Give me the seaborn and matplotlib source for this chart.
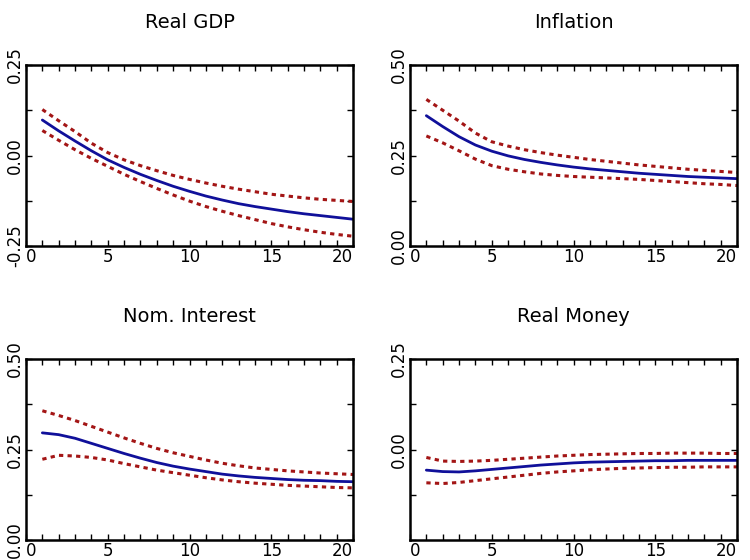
import matplotlib
matplotlib.use("Agg")
import matplotlib.pyplot as plt
import seaborn as sns
import numpy as np
import pandas as pd
from matplotlib.ticker import MultipleLocator

horizon = list(range(1, 21))

titles = ["Real GDP", "Inflation", "Nom. Interest", "Real Money"]

gdp_mid = [0.098, 0.068, 0.040, 0.013, -0.012, -0.033, -0.052, -0.069, -0.085, -0.099,
           -0.112, -0.123, -0.133, -0.141, -0.148, -0.155, -0.161, -0.166, -0.171, -0.176]
gdp_up = [0.127, 0.096, 0.066, 0.034, 0.008, -0.012, -0.028, -0.042, -0.055, -0.066,
          -0.076, -0.085, -0.093, -0.100, -0.107, -0.112, -0.117, -0.121, -0.124, -0.127]
gdp_lo = [0.069, 0.042, 0.016, -0.008, -0.030, -0.052, -0.072, -0.091, -0.109, -0.126,
          -0.141, -0.154, -0.166, -0.177, -0.188, -0.197, -0.205, -0.212, -0.218, -0.223]

inf_mid = [0.360, 0.330, 0.302, 0.279, 0.262, 0.249, 0.239, 0.231, 0.224, 0.218,
           0.213, 0.209, 0.205, 0.201, 0.198, 0.195, 0.192, 0.190, 0.188, 0.186]
inf_up = [0.405, 0.375, 0.345, 0.312, 0.288, 0.276, 0.266, 0.258, 0.251, 0.245,
          0.239, 0.234, 0.229, 0.224, 0.220, 0.216, 0.212, 0.209, 0.206, 0.203]
inf_lo = [0.304, 0.285, 0.263, 0.240, 0.222, 0.212, 0.205, 0.199, 0.195, 0.192,
          0.190, 0.188, 0.186, 0.184, 0.181, 0.178, 0.175, 0.172, 0.170, 0.167]

int_mid = [0.296, 0.291, 0.281, 0.267, 0.253, 0.239, 0.226, 0.214, 0.204, 0.196,
           0.189, 0.182, 0.177, 0.173, 0.170, 0.167, 0.165, 0.164, 0.162, 0.161]
int_up = [0.357, 0.344, 0.330, 0.314, 0.298, 0.282, 0.267, 0.253, 0.241, 0.231,
          0.221, 0.212, 0.205, 0.199, 0.195, 0.191, 0.188, 0.185, 0.183, 0.181]
int_lo = [0.223, 0.234, 0.232, 0.228, 0.221, 0.211, 0.202, 0.193, 0.186, 0.179,
          0.172, 0.166, 0.161, 0.157, 0.154, 0.151, 0.149, 0.147, 0.145, 0.144]

mon_mid = [-0.057, -0.061, -0.062, -0.059, -0.055, -0.051, -0.047, -0.043, -0.040, -0.037,
           -0.035, -0.034, -0.033, -0.032, -0.031, -0.031, -0.030, -0.030, -0.030, -0.030]
mon_up = [-0.022, -0.032, -0.033, -0.032, -0.030, -0.027, -0.024, -0.021, -0.018, -0.016,
          -0.014, -0.013, -0.012, -0.011, -0.011, -0.010, -0.010, -0.010, -0.011, -0.011]
mon_lo = [-0.092, -0.094, -0.091, -0.086, -0.081, -0.076, -0.071, -0.066, -0.062, -0.059,
          -0.056, -0.054, -0.052, -0.051, -0.050, -0.049, -0.049, -0.048, -0.048, -0.048]

ylims = [(-0.25, 0.25), (0.0, 0.5), (0.0, 0.5), (-0.25, 0.25)]
yticks = [[-0.25, 0.0, 0.25], [0.0, 0.25, 0.5], [0.0, 0.25, 0.5], [-0.25, 0.0, 0.25]]
ytick_labels = [["-0.25", "0.00", "0.25"], ["0.00", "0.25", "0.50"],
                ["0.00", "0.25", "0.50"], ["", "0.00", "0.25"]]
xticks = [0, 5, 10, 15, 20]

series = [(gdp_mid, gdp_up, gdp_lo), (inf_mid, inf_up, inf_lo),
          (int_mid, int_up, int_lo), (mon_mid, mon_up, mon_lo)]

sns.set_style("white")
plt.rcParams['font.family'] = ['DejaVu Sans']
plt.rcParams['text.color'] = 'black'
plt.rcParams['xtick.color'] = 'black'
plt.rcParams['ytick.color'] = 'black'

fig = plt.figure(figsize=(7.5, 5.6), dpi=100)
W, H = 750, 560
boxes = [(26, 65, 353, 246), (410, 65, 737, 246), (26, 359, 353, 540), (410, 359, 737, 540)]

blue = "#10109a"
red = "#a31515"

for i, (x0, y0, x1, y1) in enumerate(boxes):
    ax = fig.add_axes([x0 / W, 1 - y1 / H, (x1 - x0) / W, (y1 - y0) / H])
    mid, up, lo = series[i]
    df = pd.DataFrame({"h": horizon, "mid": mid, "up": up, "lo": lo})
    sns.lineplot(data=df, x="h", y="up", ax=ax, color=red, lw=2.2, linestyle=(0, (1.4, 1.4)))
    sns.lineplot(data=df, x="h", y="lo", ax=ax, color=red, lw=2.2, linestyle=(0, (1.4, 1.4)))
    sns.lineplot(data=df, x="h", y="mid", ax=ax, color=blue, lw=2.0)
    ax.set_xlim(0, 20)
    ax.set_ylim(*ylims[i])
    ax.set_xticks(xticks)
    xl = ax.set_xticklabels([str(t) for t in xticks])
    xl[0].set_ha("left")
    xl[-1].set_ha("right")
    ax.xaxis.set_minor_locator(MultipleLocator(1))
    ax.set_yticks(yticks[i])
    ax.set_yticklabels(ytick_labels[i], rotation=90, va="center")
    ax.yaxis.set_minor_locator(MultipleLocator(0.125))
    ax.tick_params(which="both", direction="in", top=True, right=True, bottom=True, left=True,
                   color="black", width=1.0)
    ax.tick_params(which="major", length=4, labelsize=12, pad=1.5, labelcolor="black")
    ax.tick_params(which="minor", length=4)
    ax.set_xlabel("")
    ax.set_ylabel("")
    for s in ax.spines.values():
        s.set_visible(True)
        s.set_color("black")
        s.set_linewidth(1.8)
    ax.set_title(titles[i], fontsize=14, pad=27, color="black")

fig.savefig("out.png", dpi=100)
